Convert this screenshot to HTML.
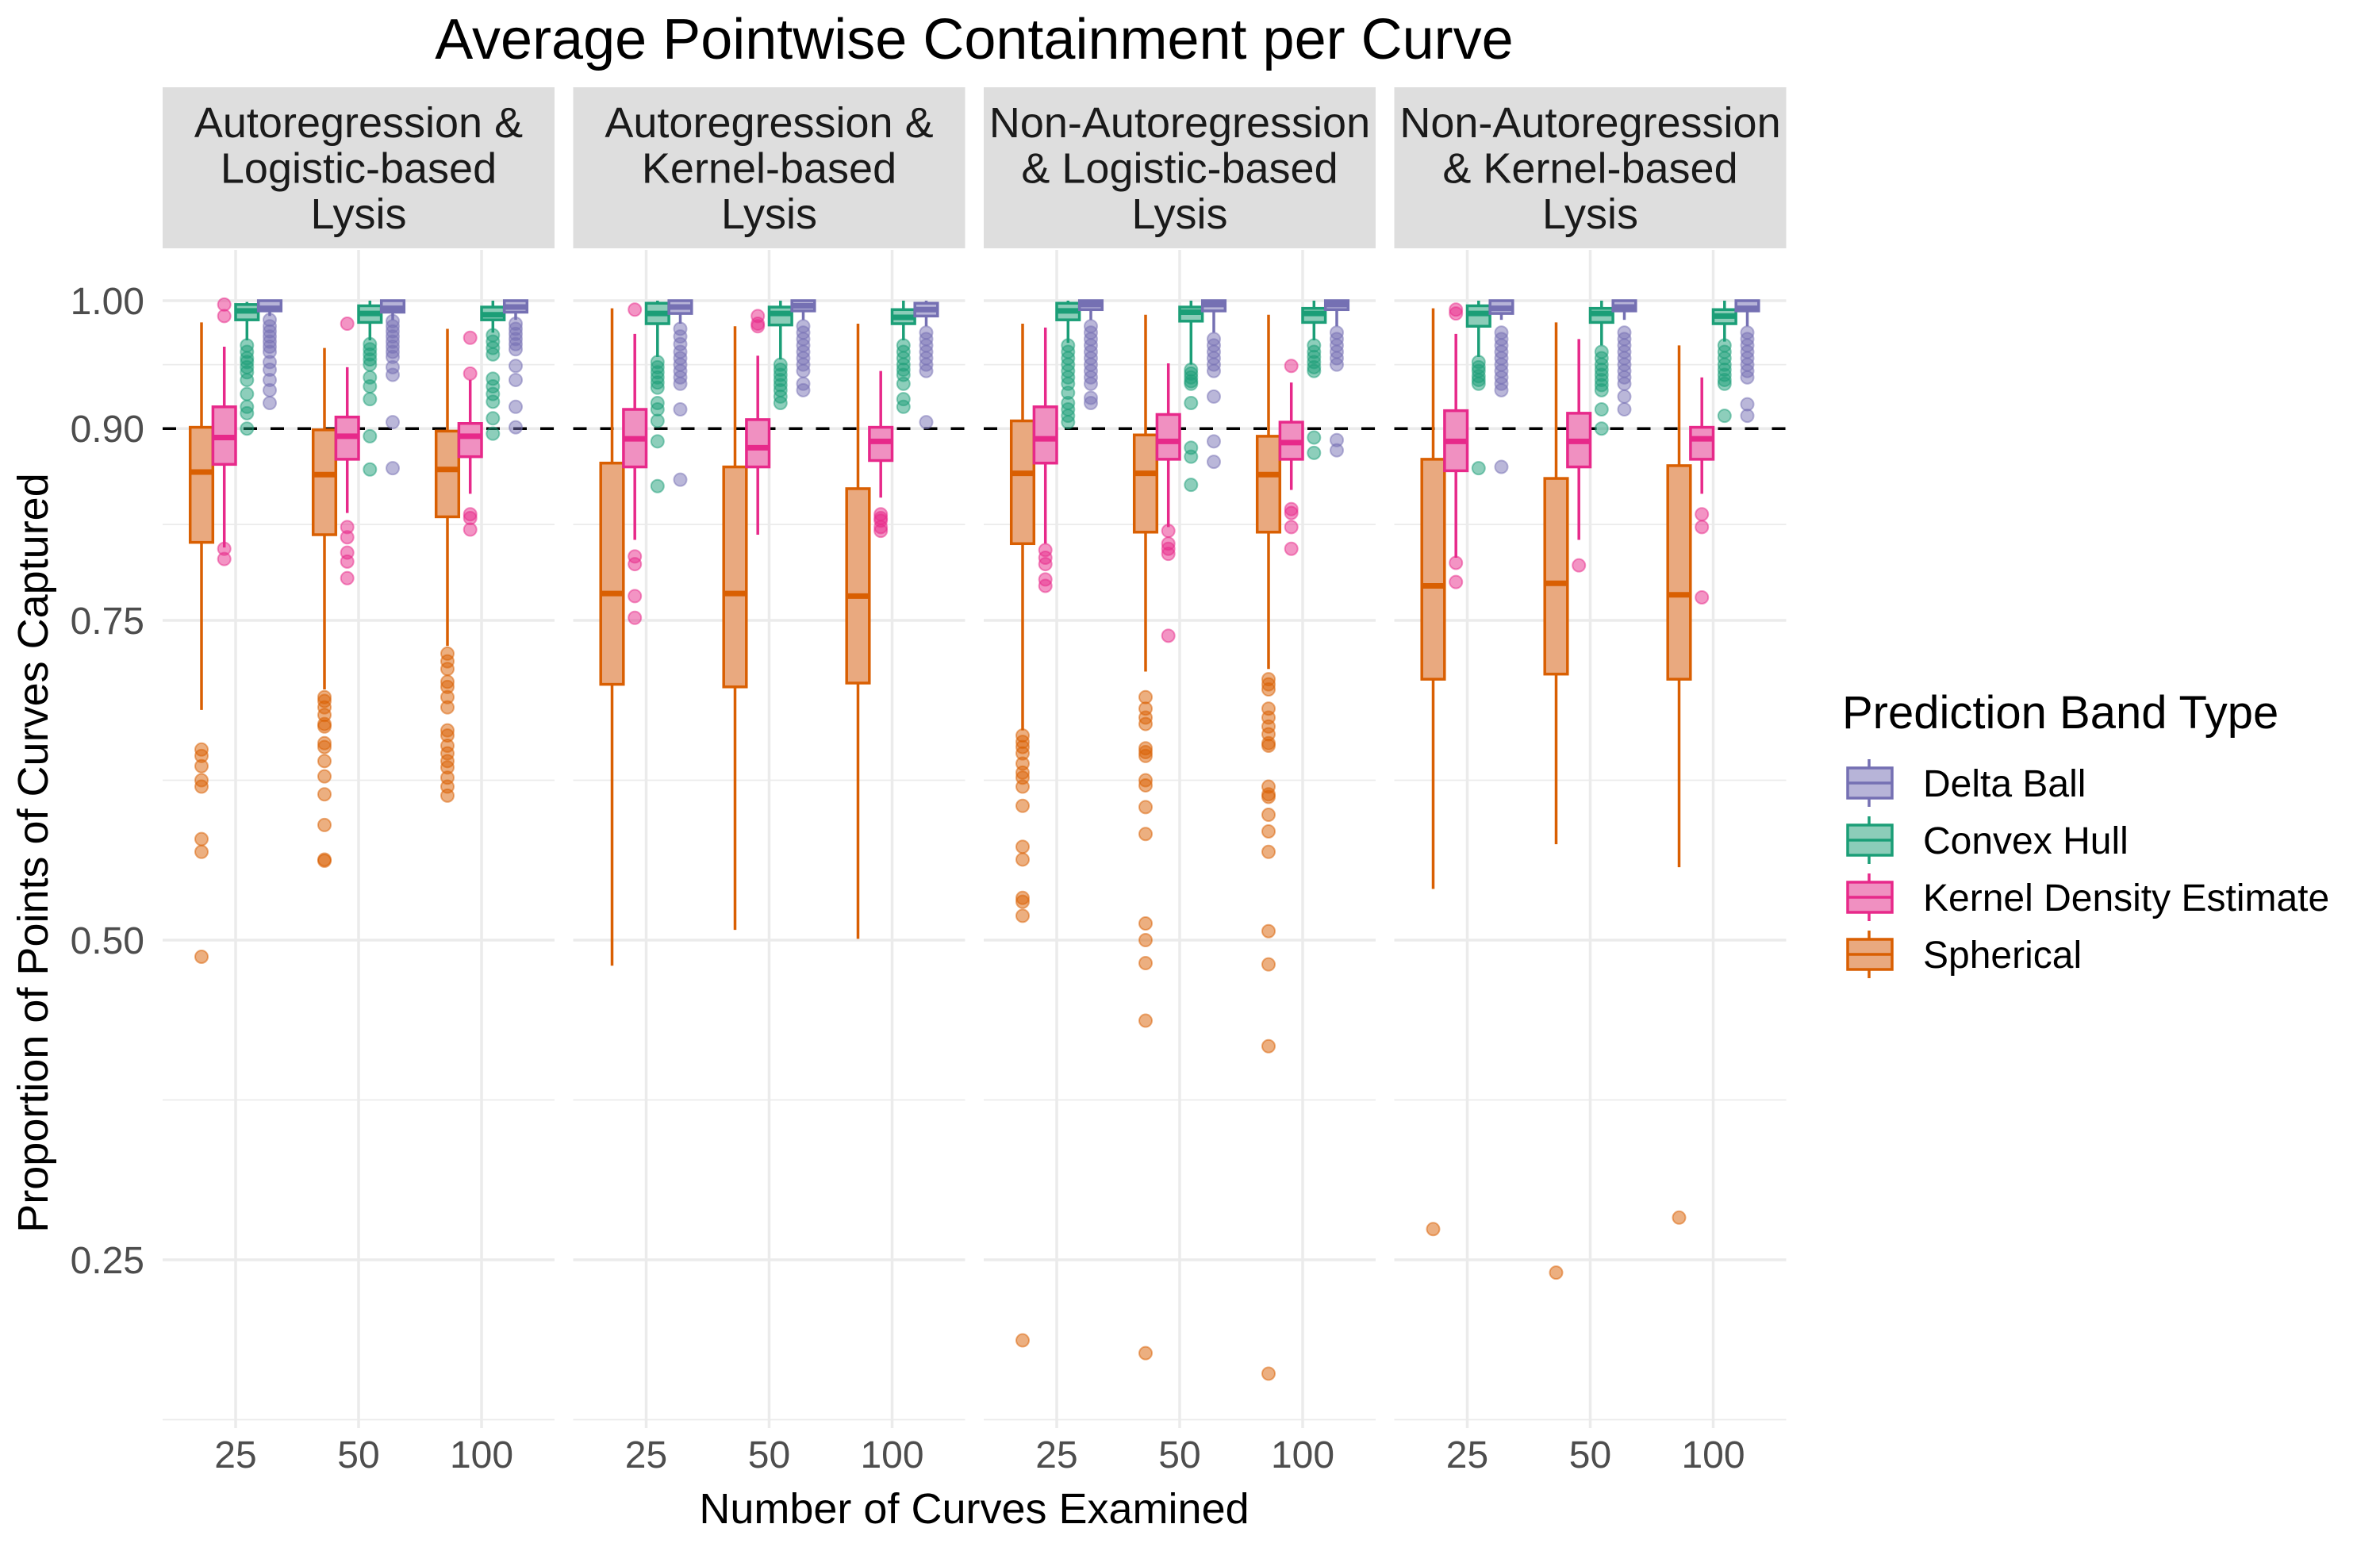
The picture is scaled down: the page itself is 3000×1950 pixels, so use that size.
<!DOCTYPE html>
<html><head><meta charset="utf-8"><style>
html,body{margin:0;padding:0;background:#fff;}
svg{display:block;font-family:"Liberation Sans",Arial,sans-serif;}
</style></head><body>
<svg id="chart" width="3000" height="1950" viewBox="0 0 3000 1950" xmlns="http://www.w3.org/2000/svg">
<rect x="0" y="0" width="3000" height="1950" fill="#fff"/>
<text x="1228" y="74" font-size="72" text-anchor="middle" fill="#000">Average Pointwise Containment per Curve</text>
<text transform="translate(60,1075) rotate(-90)" font-size="54" text-anchor="middle" fill="#000">Proportion of Points of Curves Captured</text>
<text x="1228" y="1920" font-size="54" text-anchor="middle" fill="#000">Number of Curves Examined</text>
<g id="panels"></g>
<g id="legend"></g>
</svg>
<script>
const panelNames = [["Autoregression &","Logistic-based","Lysis"],["Autoregression &","Kernel-based","Lysis"],["Non-Autoregression","& Logistic-based","Lysis"],["Non-Autoregression","& Kernel-based","Lysis"]];
const categories = ["25","50","100"];
const yTickValues = [1.00,0.90,0.75,0.50,0.25];
const yTickLabels = ["1.00","0.90","0.75","0.50","0.25"];
const yMinorValues = [0.95,0.825,0.625,0.375,0.125];
const threshold = 0.9;
const seriesNames = ["Delta Ball","Convex Hull","Kernel Density Estimate","Spherical"];
const sphericalStats = [
[0.68,0.811,0.866,0.901,0.983],[0.696,0.817,0.864,0.899,0.963],[0.73,0.831,0.868,0.898,0.978],
[0.48,0.70,0.771,0.873,0.994],[0.508,0.698,0.771,0.87,0.98],[0.501,0.701,0.769,0.853,0.982],
[0.664,0.81,0.865,0.906,0.982],[0.71,0.819,0.865,0.895,0.989],[0.712,0.819,0.864,0.894,0.989],
[0.54,0.704,0.777,0.876,0.994],[0.575,0.708,0.779,0.861,0.983],[0.557,0.704,0.77,0.871,0.965]];
const kdeStats = [
[0.807,0.872,0.893,0.917,0.964],[0.834,0.876,0.894,0.909,0.948],[0.849,0.878,0.894,0.904,0.938],
[0.813,0.87,0.892,0.915,0.974],[0.817,0.87,0.885,0.907,0.957],[0.846,0.875,0.89,0.901,0.945],
[0.81,0.873,0.892,0.917,0.979],[0.823,0.876,0.89,0.911,0.951],[0.852,0.876,0.889,0.905,0.936],
[0.799,0.867,0.89,0.914,0.974],[0.813,0.87,0.89,0.912,0.97],[0.849,0.876,0.892,0.901,0.94]];
const convexStats = [
[0.969,0.985,0.992,0.997,0.999],[0.969,0.983,0.99,0.996,1.0],[0.975,0.985,0.989,0.995,1.0],
[0.956,0.982,0.99,0.998,1.0],[0.954,0.981,0.99,0.995,1.0],[0.969,0.982,0.987,0.993,1.0],
[0.967,0.985,0.992,0.998,1.0],[0.95,0.984,0.991,0.995,1.0],[0.969,0.983,0.99,0.994,1.0],
[0.956,0.98,0.99,0.996,1.0],[0.965,0.983,0.99,0.994,1.0],[0.968,0.982,0.988,0.993,1.0]];
const deltaStats = [
[0.988,0.992,0.994,1.0,1.0],[0.985,0.991,0.994,1.0,1.0],[0.985,0.991,0.995,1.0,1.0],
[0.982,0.99,0.995,1.0,1.0],[0.985,0.992,0.996,1.0,1.0],[0.98,0.988,0.993,0.998,1.0],
[0.985,0.993,0.997,1.0,1.0],[0.975,0.992,0.997,1.0,1.0],[0.98,0.993,0.997,1.0,1.0],
[0.985,0.99,0.994,1.0,1.0],[0.985,0.992,0.995,1.0,1.0],[0.98,0.992,0.994,1.0,1.0]];
const sphericalOutliers = [
[0.649,0.644,0.636,0.625,0.62,0.579,0.569,0.487],
[0.69,0.687,0.682,0.676,0.669,0.667,0.654,0.651,0.64,0.628,0.614,0.59,0.563,0.562],
[0.724,0.718,0.712,0.702,0.698,0.69,0.682,0.664,0.66,0.652,0.646,0.64,0.635,0.627,0.62,0.613],
[],[],[],
[0.66,0.655,0.651,0.646,0.638,0.631,0.627,0.62,0.605,0.573,0.563,0.533,0.53,0.519,0.187],
[0.69,0.681,0.674,0.669,0.65,0.647,0.644,0.625,0.621,0.604,0.583,0.513,0.5,0.482,0.437,0.177],
[0.704,0.7,0.696,0.681,0.674,0.667,0.661,0.654,0.652,0.62,0.614,0.612,0.598,0.585,0.569,0.507,0.481,0.417,0.161],
[0.274],[0.24],[0.283]];
const kdeOutliers = [
[0.997,0.988,0.806,0.798],
[0.982,0.823,0.815,0.803,0.796,0.783],
[0.971,0.943,0.833,0.83,0.821],
[0.993,0.80,0.794,0.769,0.752],
[0.988,0.982,0.98],
[0.833,0.83,0.828,0.823,0.82],
[0.805,0.799,0.794,0.782,0.777],
[0.82,0.81,0.806,0.802,0.738],
[0.949,0.837,0.834,0.823,0.806],
[0.993,0.99,0.795,0.78],
[0.793],
[0.833,0.823,0.768]];
const convexOutliers = [
[0.965,0.96,0.955,0.952,0.948,0.944,0.938,0.927,0.917,0.912,0.90],
[0.966,0.962,0.958,0.954,0.95,0.94,0.933,0.923,0.894,0.868],
[0.973,0.968,0.963,0.958,0.939,0.933,0.927,0.921,0.908,0.896],
[0.952,0.948,0.944,0.94,0.936,0.932,0.92,0.915,0.906,0.89,0.855],
[0.95,0.946,0.942,0.938,0.934,0.93,0.925,0.92],
[0.965,0.96,0.955,0.95,0.946,0.942,0.935,0.923,0.917],
[0.965,0.96,0.955,0.95,0.945,0.94,0.935,0.928,0.92,0.915,0.91,0.905],
[0.946,0.943,0.94,0.937,0.935,0.92,0.885,0.878,0.856],
[0.965,0.96,0.956,0.952,0.948,0.945,0.893,0.881],
[0.952,0.948,0.945,0.941,0.938,0.935,0.869],
[0.96,0.955,0.95,0.946,0.942,0.938,0.934,0.93,0.915,0.9],
[0.965,0.96,0.955,0.95,0.946,0.942,0.938,0.935,0.91]];
const deltaOutliers = [
[0.985,0.98,0.976,0.972,0.968,0.964,0.96,0.952,0.946,0.938,0.93,0.92],
[0.984,0.98,0.976,0.972,0.968,0.964,0.96,0.956,0.948,0.942,0.905,0.869],
[0.982,0.978,0.974,0.97,0.966,0.962,0.949,0.938,0.917,0.901],
[0.978,0.972,0.966,0.96,0.955,0.95,0.945,0.94,0.935,0.915,0.86],
[0.98,0.975,0.97,0.965,0.96,0.955,0.95,0.945,0.935,0.93],
[0.975,0.97,0.965,0.96,0.955,0.95,0.945,0.905],
[0.98,0.975,0.97,0.965,0.96,0.955,0.95,0.945,0.94,0.935,0.924,0.92],
[0.97,0.965,0.96,0.955,0.95,0.945,0.925,0.89,0.874],
[0.975,0.97,0.965,0.96,0.955,0.95,0.891,0.883],
[0.975,0.97,0.965,0.96,0.955,0.95,0.945,0.94,0.935,0.93,0.87],
[0.975,0.97,0.965,0.96,0.955,0.95,0.945,0.94,0.935,0.925,0.915],
[0.975,0.97,0.965,0.96,0.955,0.95,0.945,0.94,0.919,0.91]];

const NS = "http://www.w3.org/2000/svg";
const panelLefts = [205, 722.5, 1240, 1757.5];
const panelW = 494, plotTop = 315, plotBottom = 1800;
const pxPerUnit = 1612, yAtOne = 379;
function yScale(v){ return yAtOne + (1 - v) * pxPerUnit; }
function xScale(p, c){ return panelLefts[p] + 92 + c * 155; }
function mk(tag, attrs, parent){ const e = document.createElementNS(NS, tag); for (const k in attrs) e.setAttribute(k, attrs[k]); parent.appendChild(e); return e; }

const seriesDefs = [
 {key:"spherical", stats:sphericalStats, out:sphericalOutliers, color:"#D95F02", fill:"#E9A97F", off:-43},
 {key:"kde", stats:kdeStats, out:kdeOutliers, color:"#E7298A", fill:"#F090C1", off:-14.3},
 {key:"convex-hull", stats:convexStats, out:convexOutliers, color:"#1B9E77", fill:"#8CCDB9", off:14.3},
 {key:"delta-ball", stats:deltaStats, out:deltaOutliers, color:"#7570B3", fill:"#B7B4D8", off:43}];

const root = document.getElementById("panels");
for (let p = 0; p < 4; p++){
  const g = mk("g", {}, root);
  
  
  const L = panelLefts[p];
  const strip = mk("rect", {x:L, y:110, width:panelW, height:203, fill:"#dedede"}, g);
  
  
  panelNames[p].forEach((line, i) => {
    const t = mk("text", {x:L + panelW/2, y:173 + i*57.5, "font-size":54, "text-anchor":"middle", fill:"#1a1a1a"}, g);
    t.textContent = line;
    
    
  });
  yMinorValues.forEach(v => {
    const l = mk("line", {x1:L, x2:L+panelW, y1:yScale(v), y2:yScale(v), stroke:"#ebebeb", "stroke-width":1.8}, g);
    
    
  });
  yTickValues.forEach(v => {
    const l = mk("line", {x1:L, x2:L+panelW, y1:yScale(v), y2:yScale(v), stroke:"#ebebeb", "stroke-width":3.5}, g);
    
    
  });
  categories.forEach((c, ci) => {
    const x = xScale(p, ci);
    const l = mk("line", {x1:x, x2:x, y1:plotTop, y2:plotBottom, stroke:"#ebebeb", "stroke-width":3.5}, g);
    
    
    const t = mk("text", {x:x, y:1850, "font-size":48, "text-anchor":"middle", fill:"#4d4d4d"}, g);
    t.textContent = c;
    
    
  });
  const dl = mk("line", {x1:L, x2:L+panelW, y1:yScale(threshold), y2:yScale(threshold), stroke:"#000", "stroke-width":3.5, "stroke-dasharray":"17,17"}, g);
  
  
  for (let ci = 0; ci < 3; ci++){
    const k = p*3 + ci;
    seriesDefs.forEach(s => {
      const [lo, q1, med, q3, hi] = s.stats[k];
      const cx = xScale(p, ci) + s.off, w = 28.6;
      const bg = mk("g", {}, g);
      
      
      mk("line", {x1:cx, x2:cx, y1:yScale(hi), y2:yScale(q3), stroke:s.color, "stroke-width":3.5}, bg);
      mk("line", {x1:cx, x2:cx, y1:yScale(q1), y2:yScale(lo), stroke:s.color, "stroke-width":3.5}, bg);
      const top = yScale(q3), bot = yScale(q1);
      mk("rect", {x:cx - w/2, y:top, width:w, height:Math.max(bot - top, 0.5), fill:s.fill, stroke:s.color, "stroke-width":3.5}, bg);
      mk("line", {x1:cx - w/2, x2:cx + w/2, y1:yScale(med), y2:yScale(med), stroke:s.color, "stroke-width":7}, bg);
      s.out[k].forEach(v => {
        const pt = mk("circle", {cx:cx, cy:yScale(v), r:8, fill:s.color, "fill-opacity":0.5, stroke:s.color, "stroke-opacity":0.5, "stroke-width":2}, bg);
        
        
      });
    });
  }
}
yTickValues.forEach((v, i) => {
  const t = mk("text", {x:182, y:yScale(v) + 17, "font-size":48, "text-anchor":"end", fill:"#4d4d4d"}, root);
  t.textContent = yTickLabels[i];
  
  
});
const lg = document.getElementById("legend");
const lt = mk("text", {x:2322, y:918, "font-size":58, fill:"#000"}, lg);
lt.textContent = "Prediction Band Type";


const legendOrder = [3, 2, 1, 0];
legendOrder.forEach((si, i) => {
  const s = seriesDefs[si];
  const cy = 987 + i*72;
  const eg = mk("g", {}, lg);
  
  
  mk("line", {x1:2356, x2:2356, y1:cy - 30, y2:cy + 30, stroke:s.color, "stroke-width":3.5}, eg);
  mk("rect", {x:2329, y:cy - 19, width:56, height:38, fill:s.fill, stroke:s.color, "stroke-width":3.5}, eg);
  mk("line", {x1:2329, x2:2385, y1:cy, y2:cy, stroke:s.color, "stroke-width":3.5}, eg);
  const t = mk("text", {x:2424, y:cy + 17, "font-size":48, fill:"#000"}, eg);
  t.textContent = seriesNames[i];
});
</script>
</body></html>
